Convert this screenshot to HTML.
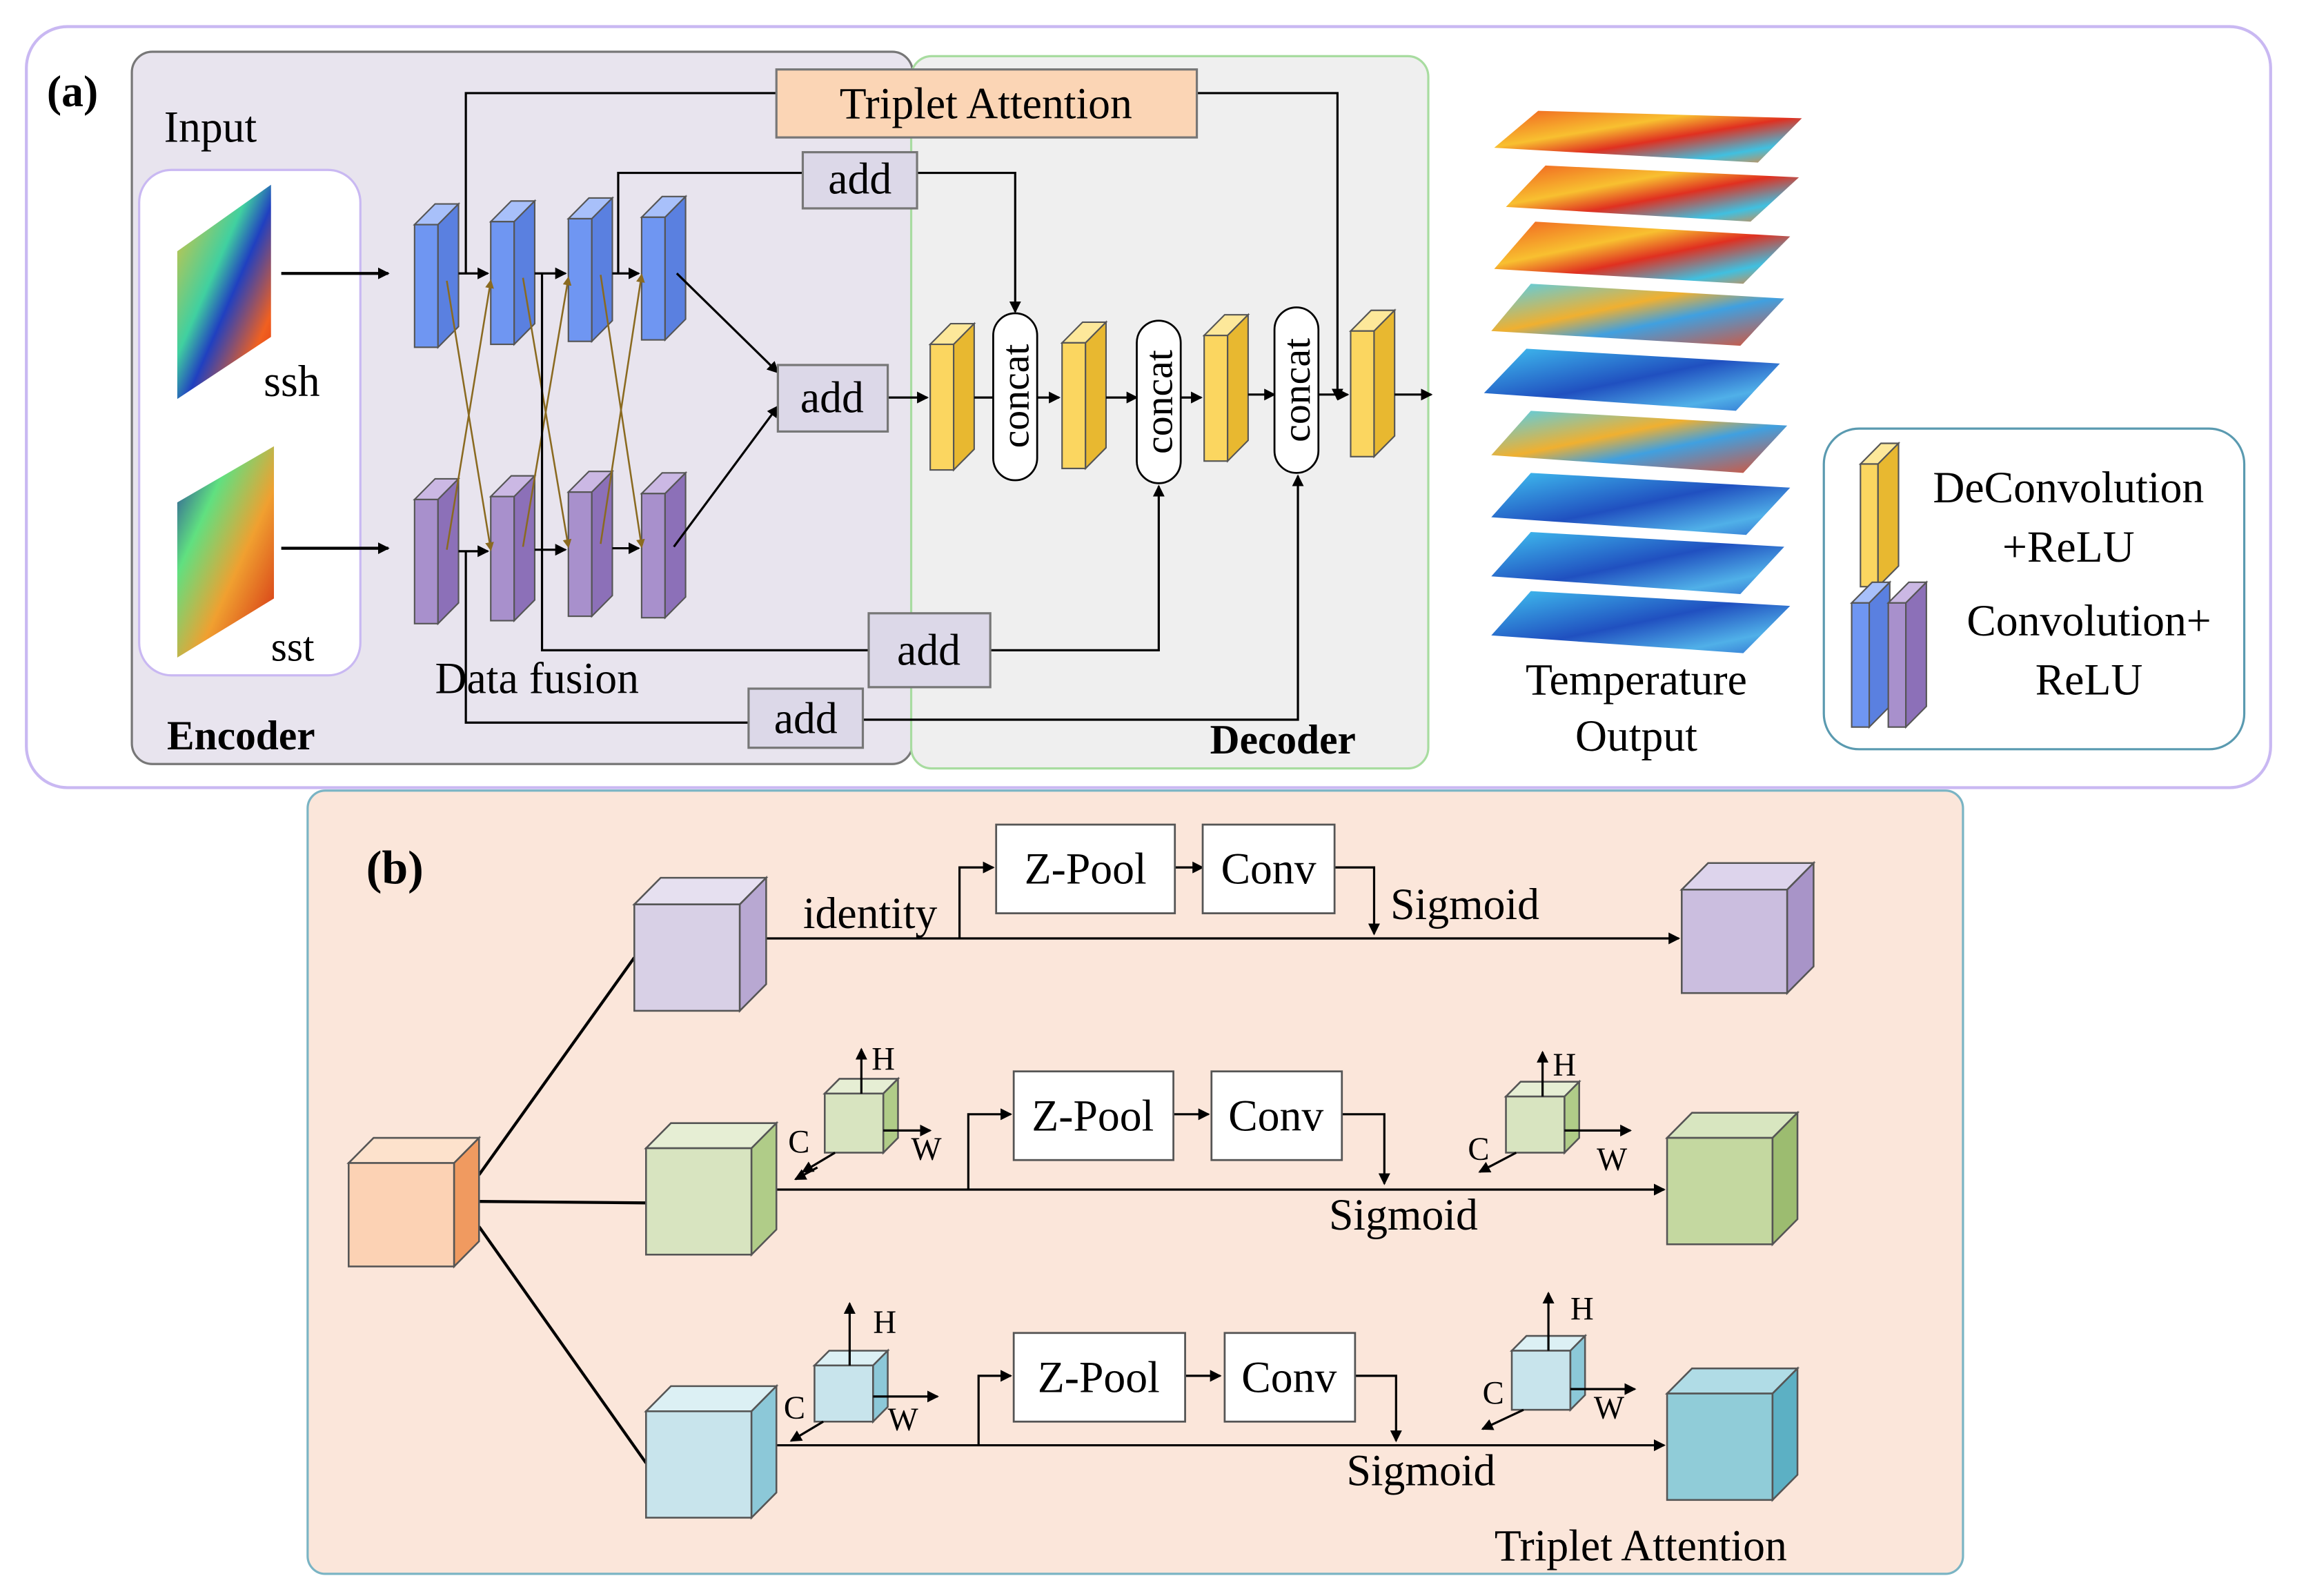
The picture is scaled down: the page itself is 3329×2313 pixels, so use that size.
<!DOCTYPE html>
<html><head><meta charset="utf-8"><style>html,body{margin:0;padding:0;background:#fff}svg{display:block}</style></head>
<body>
<svg width="3329" height="2313" viewBox="0 0 1568 1080" preserveAspectRatio="none" xmlns="http://www.w3.org/2000/svg" font-family="'Liberation Serif', serif">
<defs>
<marker id="ar" markerWidth="8" markerHeight="8" refX="7" refY="4" orient="auto" markerUnits="userSpaceOnUse"><path d="M0,0 L8,4 L0,8 z" fill="#000"/></marker>
<marker id="arb" markerWidth="6" markerHeight="6" refX="5" refY="3" orient="auto" markerUnits="userSpaceOnUse"><path d="M0,0 L6,3 L0,6 z" fill="#8a6a20"/></marker>
<linearGradient id="hot" x1="0" y1="0" x2="1" y2="1"><stop offset="0" stop-color="#f06020"/><stop offset=".35" stop-color="#f8c030"/><stop offset=".55" stop-color="#e03020"/><stop offset=".8" stop-color="#40c0e0"/><stop offset="1" stop-color="#f08030"/></linearGradient>
<linearGradient id="mix" x1="0" y1="0" x2="1" y2="1"><stop offset="0" stop-color="#50d0f0"/><stop offset=".4" stop-color="#f0b030"/><stop offset=".6" stop-color="#40a0e0"/><stop offset="1" stop-color="#e05030"/></linearGradient>
<linearGradient id="cold" x1="0" y1="0" x2="1" y2="1"><stop offset="0" stop-color="#40c0f0"/><stop offset=".5" stop-color="#2050c0"/><stop offset=".8" stop-color="#50b0e8"/><stop offset="1" stop-color="#3070d0"/></linearGradient>
<linearGradient id="ssh" x1="0" y1="0" x2="1" y2="1"><stop offset="0" stop-color="#f0c030"/><stop offset=".4" stop-color="#40d0a0"/><stop offset=".55" stop-color="#2040c0"/><stop offset=".8" stop-color="#f06020"/><stop offset="1" stop-color="#e03010"/></linearGradient>
<linearGradient id="sst" x1="0" y1="0" x2="1" y2="1"><stop offset="0" stop-color="#2030a0"/><stop offset=".3" stop-color="#60e080"/><stop offset=".6" stop-color="#f0a030"/><stop offset="1" stop-color="#d02010"/></linearGradient>
</defs>

<!-- (a) -->
<rect x="18" y="18" width="1532" height="515" rx="28" fill="#fff" stroke="#c9b8f2" stroke-width="2"/>
<rect x="90" y="35" width="533" height="482" rx="14" fill="#e8e4ee" stroke="#777" stroke-width="1.5"/>
<rect x="622" y="38" width="353" height="482" rx="14" fill="#efefef" stroke="#a8dca0" stroke-width="1.5"/>
<text x="32" y="72" font-size="30" font-weight="bold">(a)</text>
<text x="112" y="96" font-size="30">Input</text>
<rect x="95" y="115" width="151" height="342" rx="22" fill="#fff" stroke="#c9b8f2" stroke-width="1.5"/>
<polygon points="121,170 185,125 185,228 121,270" fill="url(#ssh)"/>
<polygon points="121,340 187,302 187,405 121,445" fill="url(#sst)"/>
<text x="180" y="268" font-size="30">ssh</text>
<text x="185" y="447" font-size="28">sst</text>
<line x1="192" y1="185" x2="265" y2="185" stroke="#000" stroke-width="2" marker-end="url(#ar)"/>
<line x1="192" y1="371" x2="265" y2="371" stroke="#000" stroke-width="2" marker-end="url(#ar)"/>

<!-- conv slabs -->
<g stroke="#555" stroke-width="1">
<g fill="#6f96f2">
<polygon points="283,152 297,138 313,138 299,152" fill="#a8c0fa"/><rect x="283" y="152" width="16" height="83"/><polygon points="299,152 313,138 313,221 299,235" fill="#5a80e0"/>
<polygon points="335,150 349,136 365,136 351,150" fill="#a8c0fa"/><rect x="335" y="150" width="16" height="83"/><polygon points="351,150 365,136 365,219 351,233" fill="#5a80e0"/>
<polygon points="388,148 402,134 418,134 404,148" fill="#a8c0fa"/><rect x="388" y="148" width="16" height="83"/><polygon points="404,148 418,134 418,217 404,231" fill="#5a80e0"/>
<polygon points="438,147 452,133 468,133 454,147" fill="#a8c0fa"/><rect x="438" y="147" width="16" height="83"/><polygon points="454,147 468,133 468,216 454,230" fill="#5a80e0"/>
</g>
<g fill="#a890cc">
<polygon points="283,338 297,324 313,324 299,338" fill="#cbb8e4"/><rect x="283" y="338" width="16" height="84"/><polygon points="299,338 313,324 313,408 299,422" fill="#8c70b8"/>
<polygon points="335,336 349,322 365,322 351,336" fill="#cbb8e4"/><rect x="335" y="336" width="16" height="84"/><polygon points="351,336 365,322 365,406 351,420" fill="#8c70b8"/>
<polygon points="388,333 402,319 418,319 404,333" fill="#cbb8e4"/><rect x="388" y="333" width="16" height="84"/><polygon points="404,333 418,319 418,403 404,417" fill="#8c70b8"/>
<polygon points="438,334 452,320 468,320 454,334" fill="#cbb8e4"/><rect x="438" y="334" width="16" height="84"/><polygon points="454,334 468,320 468,404 454,418" fill="#8c70b8"/>
</g>
<g fill="#fbd660">
<polygon points="635,233 649,219 665,219 651,233" fill="#fde89a"/><rect x="635" y="233" width="16" height="85"/><polygon points="651,233 665,219 665,304 651,318" fill="#e8b830"/>
<polygon points="725,232 739,218 755,218 741,232" fill="#fde89a"/><rect x="725" y="232" width="16" height="85"/><polygon points="741,232 755,218 755,303 741,317" fill="#e8b830"/>
<polygon points="822,227 836,213 852,213 838,227" fill="#fde89a"/><rect x="822" y="227" width="16" height="85"/><polygon points="838,227 852,213 852,298 838,312" fill="#e8b830"/>
<polygon points="922,224 936,210 952,210 938,224" fill="#fde89a"/><rect x="922" y="224" width="16" height="85"/><polygon points="938,224 952,210 952,295 938,309" fill="#e8b830"/>
</g>
</g>

<!-- cross connections -->
<g stroke="#8a6a20" stroke-width="1.2" fill="none">
<line x1="305" y1="190" x2="335" y2="372" marker-end="url(#arb)"/>
<line x1="305" y1="372" x2="335" y2="190" marker-end="url(#arb)"/>
<line x1="357" y1="188" x2="388" y2="370" marker-end="url(#arb)"/>
<line x1="357" y1="370" x2="388" y2="188" marker-end="url(#arb)"/>
<line x1="410" y1="186" x2="438" y2="370" marker-end="url(#arb)"/>
<line x1="410" y1="368" x2="438" y2="186" marker-end="url(#arb)"/>
</g>
<g stroke="#000" stroke-width="1.5" fill="none">
<line x1="313" y1="185" x2="333" y2="185" marker-end="url(#ar)"/>
<line x1="365" y1="185" x2="386" y2="185" marker-end="url(#ar)"/>
<line x1="418" y1="185" x2="436" y2="185" marker-end="url(#ar)"/>
<line x1="313" y1="373" x2="333" y2="373" marker-end="url(#ar)"/>
<line x1="365" y1="372" x2="386" y2="372" marker-end="url(#ar)"/>
<line x1="418" y1="371" x2="436" y2="371" marker-end="url(#ar)"/>
<line x1="462" y1="185" x2="531" y2="252" marker-end="url(#ar)"/>
<line x1="460" y1="370" x2="531" y2="275" marker-end="url(#ar)"/>
<line x1="606" y1="269" x2="633" y2="269" marker-end="url(#ar)"/>
<line x1="665" y1="269" x2="678" y2="269"/>
<line x1="708" y1="269" x2="723" y2="269" marker-end="url(#ar)"/>
<line x1="755" y1="269" x2="776" y2="269" marker-end="url(#ar)"/>
<line x1="806" y1="269" x2="820" y2="269" marker-end="url(#ar)"/>
<line x1="852" y1="267" x2="870" y2="267" marker-end="url(#ar)"/>
<line x1="900" y1="267" x2="920" y2="267" marker-end="url(#ar)"/>
<line x1="952" y1="267" x2="977" y2="267" marker-end="url(#ar)"/>
<!-- skip paths -->
<polyline points="318,185 318,63 530,63"/>
<polyline points="817,63 913,63 913,270" marker-end="url(#ar)"/>
<polyline points="422,185 422,117 548,117"/>
<polyline points="626,117 693,117 693,211" marker-end="url(#ar)"/>
<polyline points="370,185 370,440 593,440"/>
<polyline points="676,440 791,440 791,329" marker-end="url(#ar)"/>
<polyline points="318,373 318,489 511,489"/>
<polyline points="589,487 886,487 886,322" marker-end="url(#ar)"/>
</g>
<rect x="530" y="47" width="287" height="46" fill="#fbd5b5" stroke="#777" stroke-width="1.5"/>
<text x="673" y="80" font-size="30" text-anchor="middle">Triplet Attention</text>
<g fill="#dcd8e8" stroke="#777" stroke-width="1.5">
<rect x="548" y="103" width="78" height="38"/><rect x="531" y="247" width="75" height="45"/><rect x="593" y="415" width="83" height="50"/><rect x="511" y="466" width="78" height="40"/>
</g>
<g font-size="30" text-anchor="middle">
<text x="587" y="131">add</text><text x="568" y="279">add</text><text x="634" y="450">add</text><text x="550" y="496">add</text>
</g>
<g fill="#fff" stroke="#000" stroke-width="1.3">
<rect x="678" y="212" width="30" height="113" rx="15"/><rect x="776" y="217" width="30" height="110" rx="15"/><rect x="870" y="208" width="30" height="112" rx="15"/>
</g>
<g font-size="27" text-anchor="middle">
<text transform="translate(702,268) rotate(-90)">concat</text>
<text transform="translate(800,272) rotate(-90)">concat</text>
<text transform="translate(894,264) rotate(-90)">concat</text>
</g>
<text x="297" y="469" font-size="30">Data fusion</text>
<text x="114" y="507" font-size="28" font-weight="bold">Encoder</text>
<text x="826" y="510" font-size="28" font-weight="bold">Decoder</text>

<!-- temperature maps -->
<g>
<polygon points="1050,75 1230,80 1200,110 1020,100" fill="url(#hot)"/>
<polygon points="1055,112 1228,120 1195,150 1028,140" fill="url(#hot)"/>
<polygon points="1048,150 1222,160 1190,192 1020,182" fill="url(#hot)"/>
<polygon points="1045,192 1218,202 1188,234 1018,224" fill="url(#mix)"/>
<polygon points="1042,236 1215,246 1185,278 1013,266" fill="url(#cold)"/>
<polygon points="1045,278 1220,288 1190,320 1018,308" fill="url(#mix)"/>
<polygon points="1045,320 1222,330 1192,362 1018,350" fill="url(#cold)"/>
<polygon points="1045,360 1218,370 1188,402 1018,390" fill="url(#cold)"/>
<polygon points="1045,400 1222,410 1190,442 1018,430" fill="url(#cold)"/>
</g>
<text x="1117" y="470" font-size="30" text-anchor="middle">Temperature</text>
<text x="1117" y="508" font-size="30" text-anchor="middle">Output</text>
<rect x="1245" y="290" width="287" height="217" rx="24" fill="#fff" stroke="#5a9ab0" stroke-width="1.5"/>
<g stroke="#555" stroke-width="1">
<polygon points="1270,314 1284,300 1296,300 1282,314" fill="#fde89a"/><rect x="1270" y="314" width="12" height="83" fill="#fbd660"/><polygon points="1282,314 1296,300 1296,383 1282,397" fill="#e8b830"/>
<polygon points="1264,408 1278,394 1290,394 1276,408" fill="#a8c0fa"/><rect x="1264" y="408" width="12" height="84" fill="#6f96f2"/><polygon points="1276,408 1290,394 1290,478 1276,492" fill="#5a80e0"/>
<polygon points="1289,408 1303,394 1315,394 1301,408" fill="#cbb8e4"/><rect x="1289" y="408" width="12" height="84" fill="#a890cc"/><polygon points="1301,408 1315,394 1315,478 1301,492" fill="#8c70b8"/>
</g>
<g font-size="30" text-anchor="middle">
<text x="1412" y="340">DeConvolution</text><text x="1412" y="380">+ReLU</text>
<text x="1426" y="430">Convolution+</text><text x="1426" y="470">ReLU</text>
</g>

<!-- (b) -->
<rect x="210" y="535" width="1130" height="530" rx="12" fill="#fbe6da" stroke="#7ab4c4" stroke-width="1.5"/>
<text x="250" y="598" font-size="32" font-weight="bold">(b)</text>
<g stroke="#000" stroke-width="2" fill="none">
<line x1="327" y1="795" x2="433" y2="648"/>
<line x1="327" y1="813" x2="441" y2="814"/>
<line x1="327" y1="830" x2="441" y2="990"/>
</g>
<g stroke="#000" stroke-width="1.5" fill="none">
<line x1="520" y1="635" x2="1146" y2="635" marker-end="url(#ar)"/>
<polyline points="655,635 655,587 678,587" marker-end="url(#ar)"/>
<line x1="802" y1="587" x2="821" y2="587" marker-end="url(#ar)"/>
<polyline points="911,587 938,587 938,632" marker-end="url(#ar)"/>
<line x1="530" y1="805" x2="1136" y2="805" marker-end="url(#ar)"/>
<polyline points="661,805 661,754 690,754" marker-end="url(#ar)"/>
<line x1="801" y1="754" x2="825" y2="754" marker-end="url(#ar)"/>
<polyline points="916,754 945,754 945,801" marker-end="url(#ar)"/>
<line x1="530" y1="978" x2="1136" y2="978" marker-end="url(#ar)"/>
<polyline points="668,978 668,931 690,931" marker-end="url(#ar)"/>
<line x1="809" y1="931" x2="833" y2="931" marker-end="url(#ar)"/>
<polyline points="925,931 953,931 953,975" marker-end="url(#ar)"/>
<line x1="558" y1="790" x2="543" y2="798" marker-end="url(#ar)"/>
</g>
<g fill="#fff" stroke="#555" stroke-width="1.3">
<rect x="680" y="558" width="122" height="60"/><rect x="821" y="558" width="90" height="60"/>
<rect x="692" y="725" width="109" height="60"/><rect x="827" y="725" width="89" height="60"/>
<rect x="692" y="902" width="117" height="60"/><rect x="836" y="902" width="89" height="60"/>
</g>
<g font-size="30" text-anchor="middle">
<text x="741" y="598">Z-Pool</text><text x="866" y="598">Conv</text>
<text x="746" y="765">Z-Pool</text><text x="871" y="765">Conv</text>
<text x="750" y="942">Z-Pool</text><text x="880" y="942">Conv</text>
<text x="594" y="628">identity</text>
<text x="1000" y="622">Sigmoid</text>
<text x="958" y="832">Sigmoid</text>
<text x="970" y="1005">Sigmoid</text>
<text x="1120" y="1056">Triplet Attention</text>
</g>
<!-- cubes -->
<g stroke="#555" stroke-width="1.2">
<polygon points="238,787 255,770 327,770 310,787" fill="#fde2cc"/><rect x="238" y="787" width="72" height="70" fill="#fcd2b4"/><polygon points="310,787 327,770 327,840 310,857" fill="#f09a60"/>
<polygon points="433,612 451,594 523,594 505,612" fill="#e6e0f0"/><rect x="433" y="612" width="72" height="72" fill="#d8d0e6"/><polygon points="505,612 523,594 523,666 505,684" fill="#b8a8d2"/>
<polygon points="1148,602 1166,584 1238,584 1220,602" fill="#ddd4ec"/><rect x="1148" y="602" width="72" height="70" fill="#cbbedf"/><polygon points="1220,602 1238,584 1238,654 1220,672" fill="#a894c8"/>
<polygon points="441,777 458,760 530,760 513,777" fill="#e6eed4"/><rect x="441" y="777" width="72" height="72" fill="#d8e4c0"/><polygon points="513,777 530,760 530,832 513,849" fill="#b0cc88"/>
<polygon points="1138,770 1155,753 1227,753 1210,770" fill="#d8e6c0"/><rect x="1138" y="770" width="72" height="72" fill="#c4d8a0"/><polygon points="1210,770 1227,753 1227,825 1210,842" fill="#9cbc70"/>
<polygon points="441,955 458,938 530,938 513,955" fill="#dcf0f4"/><rect x="441" y="955" width="72" height="72" fill="#c8e4ec"/><polygon points="513,955 530,938 530,1010 513,1027" fill="#8cc8d8"/>
<polygon points="1138,943 1155,926 1227,926 1210,943" fill="#b0dce6"/><rect x="1138" y="943" width="72" height="72" fill="#90ccd8"/><polygon points="1210,943 1227,926 1227,998 1210,1015" fill="#5cb0c4"/>
<polygon points="563,740 573,730 613,730 603,740" fill="#e6eed4"/><rect x="563" y="740" width="40" height="40" fill="#d8e4c0"/><polygon points="603,740 613,730 613,770 603,780" fill="#b0cc88"/>
<polygon points="1028,742 1038,732 1078,732 1068,742" fill="#e6eed4"/><rect x="1028" y="742" width="40" height="38" fill="#d8e4c0"/><polygon points="1068,742 1078,732 1078,770 1068,780" fill="#b0cc88"/>
<polygon points="556,924 566,914 606,914 596,924" fill="#dcf0f4"/><rect x="556" y="924" width="40" height="38" fill="#c8e4ec"/><polygon points="596,924 606,914 606,952 596,962" fill="#8cc8d8"/>
<polygon points="1032,914 1042,904 1082,904 1072,914" fill="#dcf0f4"/><rect x="1032" y="914" width="40" height="40" fill="#c8e4ec"/><polygon points="1072,914 1082,904 1082,944 1072,954" fill="#8cc8d8"/>
</g>
<g stroke="#000" stroke-width="1.5" fill="none">
<line x1="588" y1="740" x2="588" y2="710" marker-end="url(#ar)"/><line x1="603" y1="765" x2="635" y2="765" marker-end="url(#ar)"/><line x1="570" y1="780" x2="548" y2="793" marker-end="url(#ar)"/>
<line x1="1053" y1="742" x2="1053" y2="712" marker-end="url(#ar)"/><line x1="1068" y1="765" x2="1113" y2="765" marker-end="url(#ar)"/><line x1="1035" y1="780" x2="1010" y2="793" marker-end="url(#ar)"/>
<line x1="580" y1="924" x2="580" y2="882" marker-end="url(#ar)"/><line x1="596" y1="945" x2="640" y2="945" marker-end="url(#ar)"/><line x1="562" y1="962" x2="540" y2="975" marker-end="url(#ar)"/>
<line x1="1057" y1="914" x2="1057" y2="875" marker-end="url(#ar)"/><line x1="1072" y1="940" x2="1116" y2="940" marker-end="url(#ar)"/><line x1="1040" y1="954" x2="1012" y2="967" marker-end="url(#ar)"/>
</g>
<g font-size="22">
<text x="595" y="724">H</text><text x="622" y="785">W</text><text x="538" y="780">C</text>
<text x="1060" y="728">H</text><text x="1090" y="792">W</text><text x="1002" y="785">C</text>
<text x="596" y="902">H</text><text x="606" y="968">W</text><text x="535" y="960">C</text>
<text x="1072" y="893">H</text><text x="1088" y="960">W</text><text x="1012" y="950">C</text>
</g>
</svg>
</body></html>
